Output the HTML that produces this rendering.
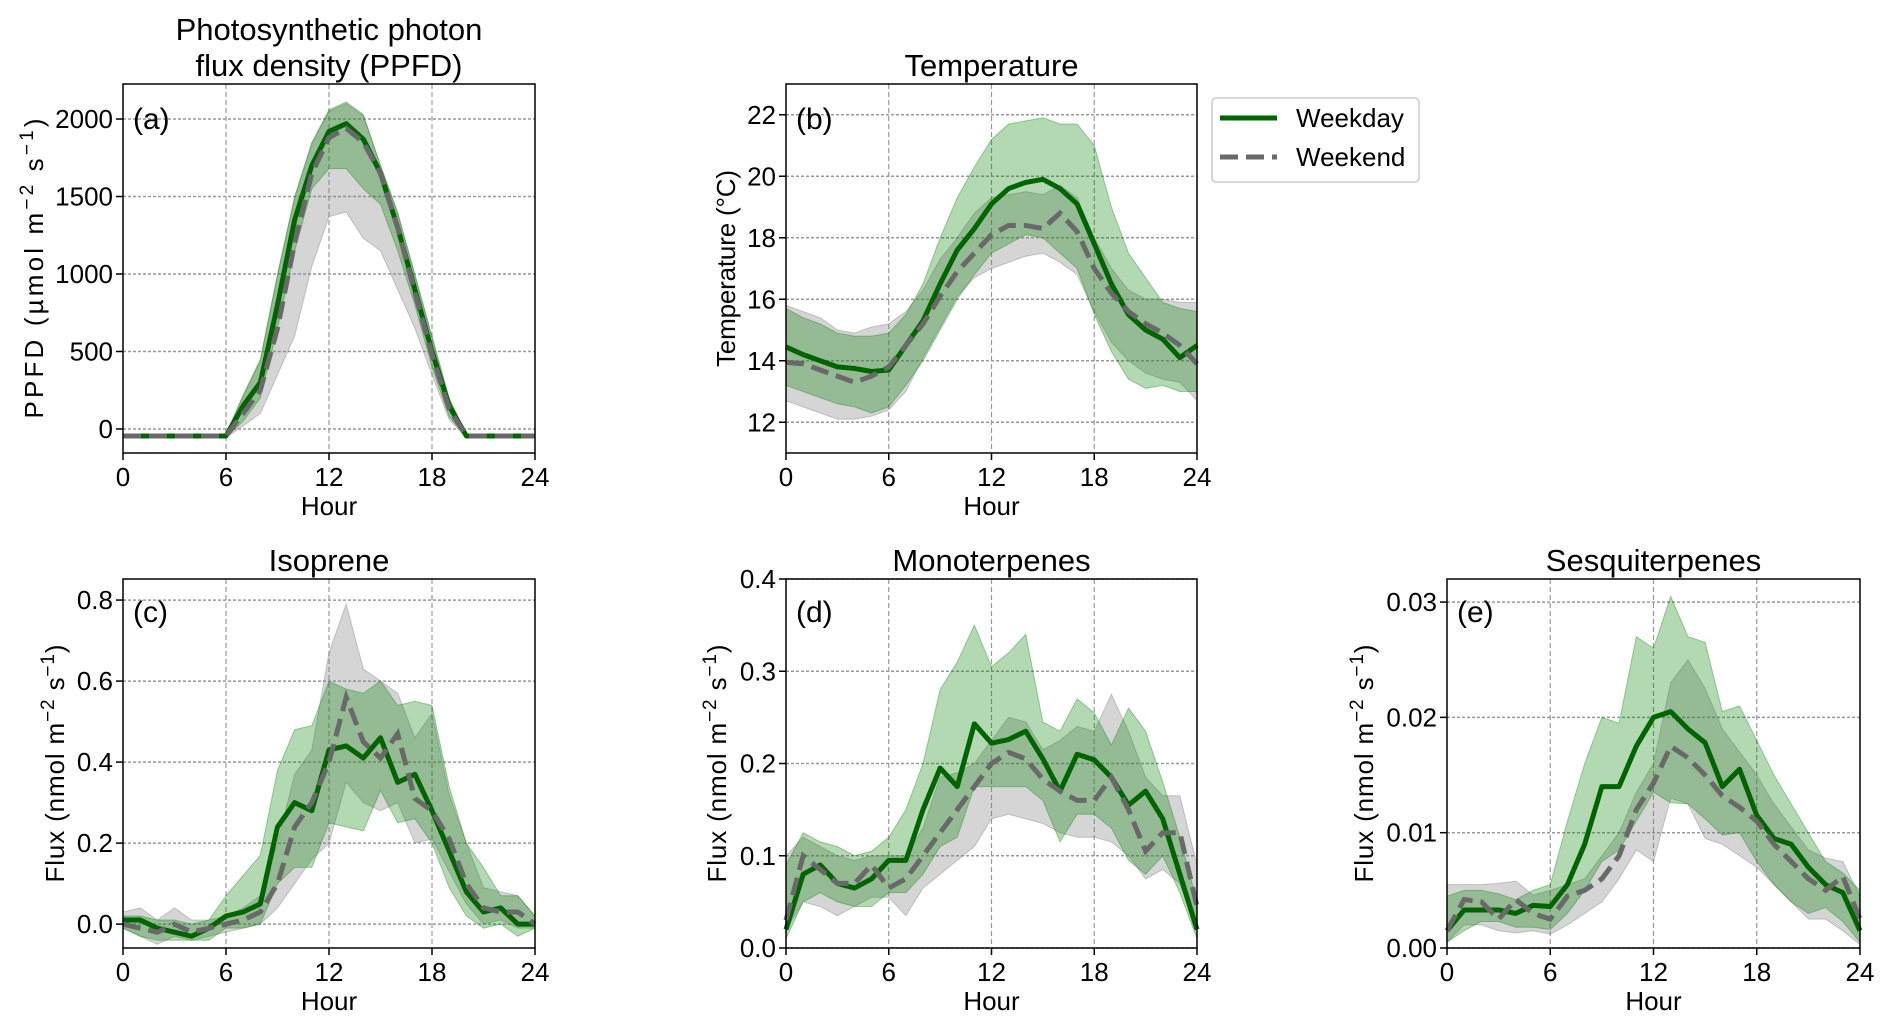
<!DOCTYPE html>
<html><head><meta charset="utf-8"><style>
html,body{margin:0;padding:0;background:#fff;}
svg{display:block;font-family:"Liberation Sans",Arial,sans-serif;}
</style></head><body>
<svg id="fig" width="1892" height="1026" viewBox="0 0 1892 1026" xmlns="http://www.w3.org/2000/svg"></svg>
<script>
const hours=[0,1,2,3,4,5,6,7,8,9,10,11,12,13,14,15,16,17,18,19,20,21,22,23,24];
// (a) PPFD
const ppfdWd=[-45,-45,-45,-45,-45,-45,-45,150,300,800,1350,1700,1920,1970,1870,1650,1300,900,500,150,-45,-45,-45,-45,-45];
const ppfdWe=[-45,-45,-45,-45,-45,-45,-45,100,250,650,1200,1650,1880,1940,1850,1650,1300,880,480,130,-45,-45,-45,-45,-45];
const ppfdWdHi=[-35,-35,-35,-35,-35,-35,-35,220,450,1000,1500,1850,2060,2110,2030,1700,1400,1000,600,200,-35,-35,-35,-35,-35];
const ppfdWdLo=[-55,-55,-55,-55,-55,-55,-55,50,200,650,1150,1550,1680,1680,1550,1450,1150,800,400,80,-55,-55,-55,-55,-55];
const ppfdWeHi=[-35,-35,-35,-35,-35,-35,-35,210,440,990,1490,1840,2050,2100,2020,1700,1390,990,590,190,-35,-35,-35,-35,-35];
const ppfdWeLo=[-55,-55,-55,-55,-55,-55,-55,20,100,350,600,1050,1370,1400,1230,1150,900,650,350,60,-55,-55,-55,-55,-55];
// (b) Temperature
const tWd=[14.45,14.2,14.0,13.8,13.75,13.65,13.7,14.5,15.3,16.5,17.6,18.3,19.1,19.6,19.8,19.9,19.6,19.1,17.8,16.5,15.5,15.0,14.7,14.1,14.5];
const tWe=[13.95,13.9,13.7,13.5,13.3,13.5,13.8,14.5,15.2,16.1,16.9,17.5,18.1,18.4,18.4,18.3,18.8,18.2,17.0,16.2,15.6,15.2,14.9,14.5,13.9];
const tWdHi=[15.7,15.4,15.2,14.9,14.8,14.8,14.9,15.5,16.5,18,19.3,20.3,21.2,21.7,21.8,21.9,21.7,21.7,21.0,19,17.5,16.7,15.9,15.7,15.6];
const tWdLo=[13.2,13,12.8,12.6,12.5,12.3,12.5,13.2,14,15,16,16.8,17.5,17.8,18.1,18.0,17.5,17.0,15.5,14.3,13.4,13.1,13.2,13.0,13.0];
const tWeHi=[15.8,15.6,15.4,15.0,14.9,15.1,15.2,15.6,16.3,17.3,18.0,18.8,19.3,19.4,19.5,19.4,19.7,19.3,18.0,17.0,16.3,16.0,16.0,15.9,15.9];
const tWeLo=[12.7,12.5,12.3,12.1,12.1,12.2,12.4,13.0,14.1,15.1,16.1,16.7,17.0,17.2,17.4,17.5,17.2,16.8,15.6,14.6,14.0,13.6,13.4,13.3,12.7];
// (c) Isoprene
const isoWd=[0.01,0.01,-0.01,-0.02,-0.03,-0.01,0.02,0.03,0.05,0.24,0.3,0.28,0.43,0.44,0.41,0.46,0.35,0.37,0.28,0.18,0.08,0.03,0.04,0.0,0.0];
const isoWe=[0.0,-0.01,-0.02,0.0,-0.02,-0.01,0.0,0.01,0.03,0.1,0.24,0.3,0.4,0.56,0.45,0.41,0.47,0.31,0.28,0.21,0.1,0.04,0.03,0.03,0.0];
const isoWdHi=[0.02,0.02,0.01,0.01,0.0,0.01,0.07,0.12,0.17,0.38,0.48,0.49,0.6,0.58,0.57,0.6,0.54,0.55,0.54,0.34,0.2,0.14,0.07,0.07,0.02];
const isoWdLo=[-0.01,-0.03,-0.04,-0.04,-0.04,-0.04,-0.01,-0.01,0.0,0.1,0.14,0.14,0.25,0.24,0.23,0.33,0.25,0.26,0.2,0.09,0.02,-0.01,0.0,-0.03,-0.01];
const isoWeHi=[0.03,0.04,0.01,0.04,0.01,0.01,0.02,0.04,0.07,0.2,0.37,0.43,0.67,0.79,0.63,0.6,0.57,0.46,0.52,0.32,0.2,0.09,0.08,0.07,0.02];
const isoWeLo=[-0.01,-0.03,-0.05,-0.03,-0.04,-0.03,-0.02,-0.01,0.0,0.04,0.1,0.16,0.2,0.35,0.3,0.28,0.3,0.2,0.21,0.13,0.05,0.0,0.01,-0.01,-0.01];
// (d) Monoterpenes
const monoWd=[0.02,0.08,0.09,0.07,0.065,0.075,0.095,0.095,0.15,0.195,0.175,0.243,0.222,0.226,0.235,0.205,0.17,0.21,0.204,0.185,0.155,0.17,0.14,0.08,0.02];
const monoWe=[0.03,0.1,0.085,0.07,0.07,0.09,0.065,0.075,0.1,0.125,0.15,0.175,0.2,0.212,0.205,0.183,0.17,0.16,0.16,0.185,0.15,0.105,0.125,0.125,0.045];
const monoWdHi=[0.09,0.125,0.115,0.11,0.1,0.105,0.12,0.15,0.2,0.28,0.31,0.35,0.305,0.32,0.34,0.245,0.235,0.27,0.255,0.22,0.26,0.235,0.18,0.12,0.05];
const monoWdLo=[0.01,0.05,0.06,0.05,0.045,0.045,0.06,0.06,0.08,0.11,0.12,0.175,0.175,0.175,0.175,0.16,0.115,0.145,0.145,0.13,0.095,0.08,0.1,0.06,0.01];
const monoWeHi=[0.1,0.12,0.11,0.1,0.095,0.1,0.1,0.1,0.13,0.185,0.19,0.2,0.225,0.25,0.245,0.215,0.225,0.24,0.235,0.275,0.235,0.185,0.165,0.165,0.09];
const monoWeLo=[0.02,0.05,0.045,0.035,0.045,0.055,0.055,0.035,0.065,0.08,0.095,0.11,0.14,0.145,0.14,0.135,0.125,0.12,0.12,0.115,0.1,0.075,0.085,0.07,0.02];
// (e) Sesquiterpenes
const sesqWd=[0.0015,0.0033,0.0033,0.0033,0.003,0.0037,0.0036,0.0055,0.009,0.014,0.014,0.0175,0.02,0.0205,0.019,0.0178,0.014,0.0155,0.0115,0.0095,0.009,0.007,0.0055,0.0048,0.0015];
const sesqWe=[0.0015,0.0042,0.004,0.0025,0.0042,0.003,0.0025,0.0045,0.005,0.006,0.008,0.012,0.0143,0.0175,0.0165,0.015,0.0132,0.0122,0.011,0.009,0.0075,0.006,0.005,0.0062,0.0025];
const sesqWdHi=[0.0045,0.005,0.005,0.0047,0.0042,0.005,0.0055,0.011,0.016,0.02,0.0195,0.027,0.026,0.0305,0.027,0.0265,0.0205,0.021,0.018,0.015,0.0125,0.01,0.0075,0.0065,0.005];
const sesqWdLo=[0.0005,0.0015,0.0023,0.0023,0.0018,0.0018,0.0016,0.003,0.005,0.0075,0.0085,0.011,0.0135,0.0126,0.0125,0.0112,0.0098,0.01,0.0075,0.0055,0.004,0.003,0.0035,0.0023,0.0005];
const sesqWeHi=[0.0055,0.0055,0.0055,0.0056,0.0058,0.0046,0.005,0.0055,0.006,0.008,0.01,0.0135,0.016,0.023,0.025,0.0225,0.019,0.017,0.015,0.0125,0.0105,0.0085,0.0078,0.0075,0.0045];
const sesqWeLo=[0.0005,0.002,0.002,0.0015,0.0013,0.0015,0.0012,0.002,0.003,0.004,0.006,0.0085,0.0075,0.013,0.0125,0.0095,0.009,0.008,0.007,0.0055,0.004,0.0025,0.0025,0.0015,0.0003];
const xTicks=[0,6,12,18,24];
const ticksA=[0,500,1000,1500,2000];
const ticksB=[12,14,16,18,20,22];
const ticksC=[0.0,0.2,0.4,0.6,0.8];
const ticksD=[0.0,0.1,0.2,0.3,0.4];
const ticksE=[0.00,0.01,0.02,0.03];

const NS="http://www.w3.org/2000/svg";
const svg=document.getElementById('fig');
function mk(tag,attrs,parent){const e=document.createElementNS(NS,tag);for(const k in attrs)e.setAttribute(k,attrs[k]);(parent||svg).appendChild(e);return e;}

function panel(o){
  const g=mk('g',{});
  
  
  const sx=v=>o.x0+(v-0)/24*(o.x1-o.x0);
  const sy=v=>o.y1-(v-o.ymin)/(o.ymax-o.ymin)*(o.y1-o.y0);
  xTicks.forEach(t=>{ if(t>0&&t<24){const l=mk('line',{x1:sx(t),x2:sx(t),y1:o.y0,y2:o.y1,stroke:'#999','stroke-width':1.2,'stroke-dasharray':'5,3'},g);
    }});
  o.yt.forEach(t=>{const y=sy(t);const l=mk('line',{x1:o.x0,x2:o.x1,y1:y,y2:y,stroke:'#999','stroke-width':1.5,'stroke-dasharray':'3,2'},g);
    });
  function band(hi,lo,fill,stroke,nm){
    let d='M'+hours.map((h,i)=>sx(h)+','+sy(hi[i])).join('L');
    for(let i=hours.length-1;i>=0;i--)d+='L'+sx(hours[i])+','+sy(lo[i]);
    const p=mk('path',{d:d+'Z',fill:fill,stroke:stroke,'stroke-width':1},g);
    
  }
  band(o.weHi,o.weLo,'rgba(128,128,128,0.33)','rgba(128,128,128,0.4)','weekend-range-band');
  band(o.wdHi,o.wdLo,'rgba(0,128,0,0.3)','rgba(0,128,0,0.35)','weekday-range-band');
  const lwd=mk('polyline',{points:hours.map((h,i)=>sx(h)+','+sy(o.wd[i])).join(' '),fill:'none',stroke:'#006400','stroke-width':5,'stroke-linejoin':'round'},g);
  
  const lwe=mk('polyline',{points:hours.map((h,i)=>sx(h)+','+sy(o.we[i])).join(' '),fill:'none',stroke:'#696969','stroke-width':5,'stroke-dasharray':'18,8'},g);
  
  const fr=mk('rect',{x:o.x0,y:o.y0,width:o.x1-o.x0,height:o.y1-o.y0,fill:'none',stroke:'#000','stroke-width':1.5},g);
  
  xTicks.forEach(t=>{mk('line',{x1:sx(t),x2:sx(t),y1:o.y1,y2:o.y1+7,stroke:'#000','stroke-width':1.5},g);
    const tx=mk('text',{x:sx(t),y:o.y1+33,'font-size':26,'text-anchor':'middle'},g);tx.textContent=t;
    });
  o.yt.forEach(t=>{const y=sy(t);mk('line',{x1:o.x0-7,x2:o.x0,y1:y,y2:y,stroke:'#000','stroke-width':1.5},g);
    const tx=mk('text',{x:o.x0-10,y:y+9,'font-size':26,'text-anchor':'end'},g);tx.textContent=t.toFixed(o.dec);
    });
  const xl=mk('text',{x:(o.x0+o.x1)/2,y:o.y1+62,'font-size':26,'text-anchor':'middle'},g);xl.textContent='Hour';
  
  const yl=mk('text',{x:0,y:0,'font-size':26,'text-anchor':'middle',textLength:o.ylen,lengthAdjust:'spacing',transform:`translate(${o.ylx},${(o.y0+o.y1)/2}) rotate(-90)`},g);
  
  yl.innerHTML=o.ylab;
  const pl=mk('text',{x:o.x0+10,y:o.plY,'font-size':30},g);pl.textContent=o.tag;
  
  o.title.forEach((t,i)=>{const tt=mk('text',{x:(o.x0+o.x1)/2,y:o.titleY+i*36,'font-size':31,'text-anchor':'middle'},g);tt.textContent=t;
    });
}
const flux='Flux (nmol m<tspan baseline-shift="super" font-size="19">−2</tspan> s<tspan baseline-shift="super" font-size="19">−1</tspan>)';
const top0=84,top1=453,bot0=579,bot1=948;
panel({name:'ppfd-panel',x0:123,x1:535,y0:top0,y1:top1,ymin:-155,ymax:2226,yt:ticksA,dec:0,wd:ppfdWd,we:ppfdWe,wdHi:ppfdWdHi,wdLo:ppfdWdLo,weHi:ppfdWeHi,weLo:ppfdWeLo,
  ylx:43,ylen:300,ylab:'PPFD (µmol m<tspan baseline-shift="super" font-size="19">−2</tspan> s<tspan baseline-shift="super" font-size="19">−1</tspan>)',tag:'(a)',plY:129,title:['Photosynthetic photon','flux density (PPFD)'],titleY:40});
panel({name:'temperature-panel',x0:786,x1:1197,y0:top0,y1:top1,ymin:11,ymax:23,yt:ticksB,dec:0,wd:tWd,we:tWe,wdHi:tWdHi,wdLo:tWdLo,weHi:tWeHi,weLo:tWeLo,
  ylx:735,ylen:197,ylab:'Temperature (°C)',tag:'(b)',plY:129,title:['Temperature'],titleY:76});
panel({name:'isoprene-panel',x0:123,x1:535,y0:bot0,y1:bot1,ymin:-0.059,ymax:0.852,yt:ticksC,dec:1,wd:isoWd,we:isoWe,wdHi:isoWdHi,wdLo:isoWdLo,weHi:isoWeHi,weLo:isoWeLo,
  ylx:64,ylen:238,ylab:flux,tag:'(c)',plY:622,title:['Isoprene'],titleY:571});
panel({name:'monoterpenes-panel',x0:786,x1:1197,y0:bot0,y1:bot1,ymin:0,ymax:0.4,yt:ticksD,dec:1,wd:monoWd,we:monoWe,wdHi:monoWdHi,wdLo:monoWdLo,weHi:monoWeHi,weLo:monoWeLo,
  ylx:726,ylen:238,ylab:flux,tag:'(d)',plY:622,title:['Monoterpenes'],titleY:571});
panel({name:'sesquiterpenes-panel',x0:1447,x1:1860,y0:bot0,y1:bot1,ymin:0,ymax:0.032,yt:ticksE,dec:2,wd:sesqWd,we:sesqWe,wdHi:sesqWdHi,wdLo:sesqWdLo,weHi:sesqWeHi,weLo:sesqWeLo,
  ylx:1373,ylen:238,ylab:flux,tag:'(e)',plY:622,title:['Sesquiterpenes'],titleY:571});
const lg=mk('g',{});


mk('rect',{x:1212,y:98,width:207,height:84,rx:4,fill:'#fff',stroke:'#ccc','stroke-width':1.5},lg);
const l1=mk('line',{x1:1220,x2:1277,y1:118,y2:118,stroke:'#006400','stroke-width':5},lg);

const t1=mk('text',{x:1296,y:127,'font-size':26},lg);t1.textContent='Weekday';

const l2=mk('line',{x1:1220,x2:1277,y1:157,y2:157,stroke:'#696969','stroke-width':5,'stroke-dasharray':'18,8'},lg);

const t2=mk('text',{x:1296,y:166,'font-size':26},lg);t2.textContent='Weekend';

</script>
</body></html>
